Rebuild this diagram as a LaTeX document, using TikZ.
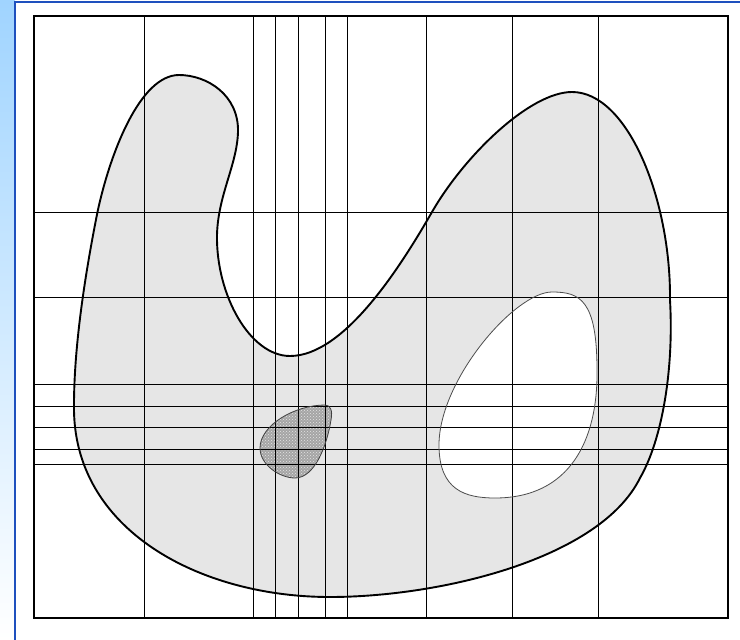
\documentclass[tikz,border=0pt]{standalone}
\usetikzlibrary{patterns}
\definecolor{frameblue}{RGB}{30,80,190}
\definecolor{stripblue}{RGB}{160,212,255}
\definecolor{blobgray}{RGB}{230,230,230}
\definecolor{spotgray}{RGB}{165,165,165}
\tikzset{
  gridline/.style={line width=1pt, black},
  blobline/.style={line width=1.9pt, black},
  holeline/.style={line width=0.8pt, black!70},
}
\def\blobpath{(179,75) .. controls (207,75) and (239,95) .. (238,132)
 .. controls (237,165) and (218,195) .. (217,235)
 .. controls (216,295) and (250,356) .. (290,356)
 .. controls (345,356) and (402,264) .. (432,212)
 .. controls (464.5,155.5) and (530,92) .. (572,92)
 .. controls (628,92) and (671,200) .. (670,300)
 .. controls (674,370) and (662,440) .. (640,478)
 .. controls (600,559) and (440,597) .. (330,597)
 .. controls (200,597) and (72,530) .. (74,405)
 .. controls (74,340) and (87.5,262) .. (97.5,212)
 .. controls (110,153.4) and (140,75) .. (179,75) -- cycle}
\def\holepath{(552,292) .. controls (515,292) and (439,380) .. (439,445)
 .. controls (439,490) and (465,498) .. (495,498)
 .. controls (570,498) and (598,440) .. (597,370)
 .. controls (597,300) and (580,292) .. (552,292) -- cycle}
\def\spotpath{(325,405) .. controls (295,405) and (260,425) .. (260,448)
 .. controls (260,465) and (280,478) .. (295,478)
 .. controls (315,478) and (327,445) .. (331,420)
 .. controls (333,410) and (330,405) .. (325,405) -- cycle}
\begin{document}
\begin{tikzpicture}[x=1pt,y=-1pt]
\useasboundingbox (0,0) rectangle (740,640);
\fill[white] (0,0) rectangle (740,640);
% window frame
\shade[top color=stripblue, bottom color=white] (0,0) rectangle (15,640);
\draw[frameblue, line width=2pt] (15,640) -- (15,2) -- (740,2);
% fills
\path[fill=blobgray] \blobpath;
\path[fill=white] \holepath;
\path[fill=spotgray] \spotpath;
\path[pattern=crosshatch dots, pattern color=white!80!gray] \spotpath;
% grid
\foreach \xx in {144,253,275,298,325,347,426,512,598}
  \draw[gridline] (\xx,16) -- (\xx,618);
\foreach \yy in {212,297,384,406,427,449,464}
  \draw[gridline] (34,\yy) -- (728,\yy);
\draw[line width=1.4pt] (34,16) rectangle (728,618);
% outlines
\draw[blobline] \blobpath;
\draw[holeline] \holepath;
\draw[line width=0.8pt, black!75] \spotpath;
\end{tikzpicture}
\end{document}
